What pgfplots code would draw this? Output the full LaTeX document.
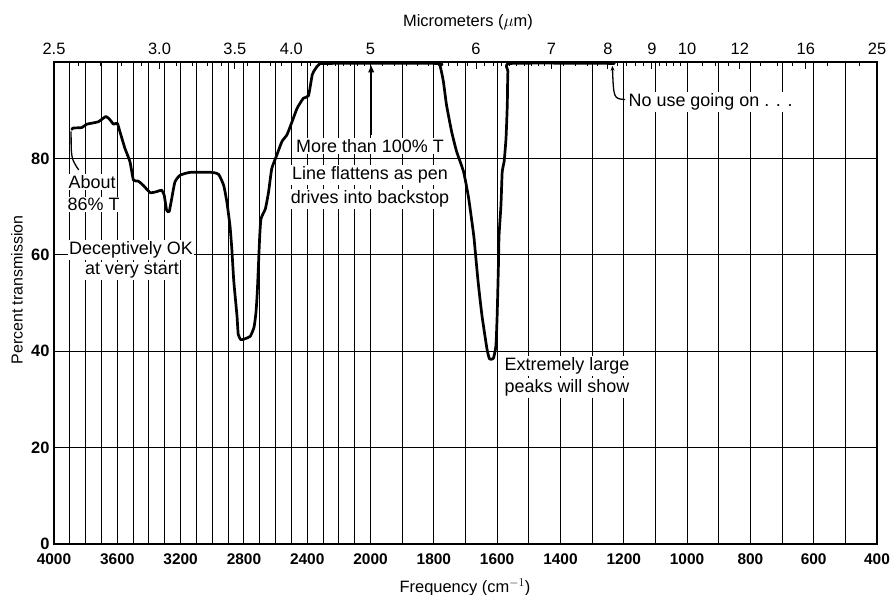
\documentclass[border=0pt]{standalone}
\usepackage{fontspec}
\setmainfont{Liberation Sans}
\usepackage{pgfplots}
\pgfplotsset{compat=1.18}
\usetikzlibrary{arrows.meta}

\pgfplotstableread{
u T
0.28 86.0
0.30 86.3
0.44 86.4
0.52 87.1
0.70 87.6
0.82 88.7
0.885 88.0
0.94 87.1
1.00 87.3
1.04 85.6
1.12 82.1
1.20 79.3
1.255 75.5
1.33 75.3
1.41 74.4
1.52 72.9
1.62 73.1
1.70 73.4
1.74 72.4
1.78 69.2
1.82 69.0
1.86 71.7
1.91 75.1
1.99 76.5
2.15 77.1
2.49 77.1
2.60 76.7
2.68 74.4
2.73 71.0
2.78 66.0
2.81 61.0
2.84 54.5
2.89 47.4
2.91 43.5
2.95 42.4
3.00 42.5
3.10 43.1
3.16 45.0
3.19 48.0
3.21 52.0
3.23 58.0
3.25 64.0
3.27 67.5
3.34 69.6
3.39 73.1
3.44 77.9
3.52 80.7
3.60 83.5
3.68 84.9
3.76 87.6
3.84 90.4
3.94 92.5
4.02 93.0
4.08 97.4
4.13 98.6
4.18 99.4
4.30 99.7
6.05 99.7
6.10 99.1
6.15 96.0
6.20 91.1
6.28 85.6
6.36 81.4
6.47 77.2
6.55 71.7
6.63 64.0
6.65 61.3
6.70 54.3
6.76 47.4
6.84 40.4
6.88 38.4
6.94 38.5
6.98 41.1
7.00 47.4
7.02 57.8
7.03 64.0
7.06 70.3
7.08 77.3
7.11 79.3
7.14 84.2
7.16 91.1
7.17 98.0
7.22 99.7
8.85 99.7
}\spectrum

\begin{document}
\begin{tikzpicture}
\path[use as bounding box] (0bp,0bp) rectangle (892bp,595bp);
% main (frequency) axis
\begin{axis}[
  at={(54bp,51bp)}, anchor=south west,
  width=823bp, height=482bp, scale only axis,
  xmin=0, xmax=13, ymin=0, ymax=100,
  xtick={0,1,2,3,4,5,6,7,8,9,10,11,12,13},
  xticklabels={4000,3600,3200,2800,2400,2000,1800,1600,1400,1200,1000,800,600,400},
  minor xtick={0.25,0.5,0.75,1.25,1.5,1.75,2.25,2.5,2.75,3.25,3.5,3.75,4.25,4.5,4.75,5.5,6.5,7.5,8.5,9.5,10.5,11.5,12.5},
  ytick={0,20,40,60,80},
  grid=both,
  major grid style={black, line width=1.0bp},
  minor grid style={black, line width=1.0bp},
  major tick length=0pt, minor tick length=0pt,
  axis line style={black, line width=1.4bp},
  /pgf/number format/assume math mode=true,
  xticklabel style={font=\fontsize{15.5}{16}\selectfont\bfseries, yshift=-6bp},
  yticklabel style={font=\fontsize{16.5}{17}\selectfont\bfseries, xshift=-1bp},
  clip=false,
]
\addplot[black, line width=2.7bp, line join=round, line cap=round, smooth, tension=0.3] table[x=u, y=T] {\spectrum};
% arrow at 5 micrometers
\draw[black, line width=2.5bp, -{Triangle[width=5.5bp,length=7bp]}] (axis cs:5.01,84.8) -- (axis cs:5.01,99.3);
% leader from "About 86% T"
\draw[black, line width=1.3bp] (axis cs:0.27,85.6) .. controls (axis cs:0.27,80) .. (axis cs:0.39,77.6);
% leader to "No use going on"
\draw[black, line width=1.3bp, -{Stealth[width=4bp,length=5bp]}] (axis cs:9.02,92.2) .. controls (axis cs:8.84,92.4) .. (axis cs:8.82,99.2);
\end{axis}
% top (micrometer) axis
\begin{axis}[
  at={(54bp,51bp)}, anchor=south west,
  width=823bp, height=482bp, scale only axis,
  xmin=0, xmax=13, ymin=0, ymax=100,
  axis x line*=top, axis y line=none,
  xtick={0,1.6667,2.8571,3.75,5,6.6667,7.8571,8.75,9.4444,10,10.8333,11.875,13},
  xticklabels={2.5,3.0,3.5,4.0,5,6,7,8,9,10,12,16,25},
  minor xtick={0.3846,0.7407,1.0714,1.3793,1.9355,2.1875,2.4242,2.6471,3.0556,3.2432,3.4211,3.5897,3.9024,4.0476,4.1860,4.3182,4.4444,4.5652,4.6809,4.7917,4.8980,5.1961,5.3846,5.5660,5.7407,5.9091,6.0714,6.2281,6.3793,6.5254,6.8033,6.9355,7.0635,7.1875,7.3077,7.4242,7.5373,7.6471,7.7536,8.0556,8.2432,8.4211,8.5897,8.9024,9.0476,9.1860,9.3182,9.5652,9.6809,9.7917,9.8980,10.2381,10.4545,10.6522,11.1538,11.4286,11.6667,12.2222,12.5,12.7273},
  xtick align=inside,
  major tick length=7bp, minor tick length=4bp,
  tick style={black, line width=1.0bp},
  axis line style={black, line width=1.4bp},
  /pgf/number format/assume math mode=true,
  xticklabel style={font=\fontsize{16.5}{17}\selectfont, yshift=4bp},
]
\addplot[draw=none] coordinates {(0,0)};
\end{axis}
% axis titles
\node[font=\fontsize{16.5}{17}\selectfont] at (468bp,573bp) {Micrometers ($\mu$m)};
\node[font=\fontsize{16.5}{17}\selectfont] at (465bp,8bp) {Frequency (cm$^{-1}$)};
\node[font=\fontsize{16}{17}\selectfont, rotate=90] at (17bp,305bp) {Percent transmission};
% annotations
\begin{scope}[every node/.style={font=\fontsize{18}{19}\selectfont, fill=white, inner sep=1.5bp}]
\node[anchor=west] at (67bp,413bp) {About};
\node[anchor=west] at (66bp,390.5bp) {86\% T};
\node at (131bp,345bp) {Deceptively OK};
\node at (132bp,324bp) {at very start};
\node at (370bp,449bp) {More than 100\% T};
\node at (370bp,420bp) {Line flattens as pen};
\node at (370bp,396bp) {drives into backstop};
\node[anchor=west] at (503bp,229bp) {Extremely large};
\node[anchor=west] at (503bp,207bp) {peaks will show};
\node[anchor=west] at (627bp,493bp) {No use going on . . .};
\end{scope}
\end{tikzpicture}
\end{document}
